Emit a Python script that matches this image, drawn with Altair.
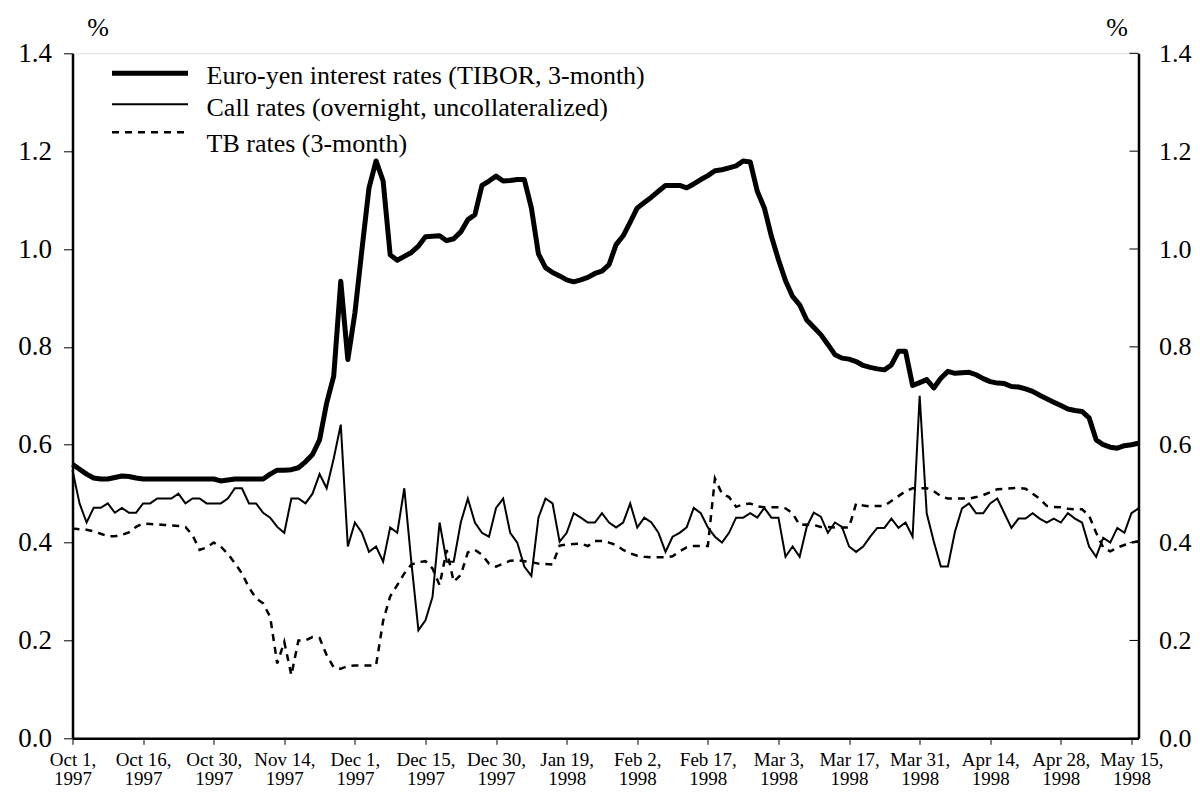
import altair as alt
import pandas as pd

# ---- data (trading-day index 0..151, Oct 1 1997 .. mid May 1998) ----
day_index = list(range(152))

euro_yen = [
    0.560, 0.550, 0.540, 0.532, 0.530, 0.530, 0.533, 0.536, 0.535, 0.532,
    0.530, 0.530, 0.530, 0.530, 0.530, 0.530, 0.530, 0.530, 0.530, 0.530,
    0.530, 0.526, 0.528, 0.530, 0.530, 0.530, 0.530, 0.530, 0.540, 0.548,
    0.548, 0.549, 0.553, 0.565, 0.580, 0.610, 0.685, 0.740, 0.934, 0.774,
    0.869, 0.999, 1.125, 1.180, 1.139, 0.988, 0.977, 0.985, 0.993, 1.006,
    1.025, 1.026, 1.027, 1.017, 1.021, 1.035, 1.060, 1.070, 1.130, 1.139,
    1.149, 1.139, 1.140, 1.142, 1.142, 1.084, 0.990, 0.962, 0.952, 0.945,
    0.937, 0.933, 0.937, 0.942, 0.950, 0.955, 0.968, 1.009, 1.027, 1.055,
    1.084, 1.095, 1.106, 1.118, 1.130, 1.130, 1.130, 1.125, 1.133, 1.142,
    1.150, 1.160, 1.162, 1.166, 1.170, 1.180, 1.178, 1.118, 1.084, 1.026,
    0.978, 0.935, 0.903, 0.886, 0.855, 0.840, 0.825, 0.805, 0.784, 0.777,
    0.775, 0.770, 0.762, 0.758, 0.755, 0.753, 0.763, 0.791, 0.791, 0.721,
    0.727, 0.733, 0.716, 0.736, 0.750, 0.746, 0.747, 0.748, 0.743, 0.735,
    0.729, 0.726, 0.725, 0.719, 0.718, 0.714, 0.709, 0.701, 0.694, 0.687,
    0.680, 0.673, 0.670, 0.668, 0.655, 0.610, 0.600, 0.595, 0.593, 0.598,
    0.600, 0.603,
]

call_rates = [
    0.548, 0.480, 0.441, 0.471, 0.471, 0.480, 0.461, 0.471, 0.461, 0.461,
    0.480, 0.480, 0.490, 0.490, 0.490, 0.500, 0.480, 0.490, 0.490, 0.480,
    0.480, 0.480, 0.490, 0.511, 0.511, 0.480, 0.480, 0.461, 0.451, 0.432,
    0.420, 0.490, 0.490, 0.480, 0.500, 0.540, 0.511, 0.572, 0.641, 0.392,
    0.441, 0.420, 0.381, 0.392, 0.361, 0.431, 0.420, 0.511, 0.360, 0.221,
    0.241, 0.289, 0.441, 0.361, 0.361, 0.441, 0.490, 0.441, 0.420, 0.412,
    0.471, 0.490, 0.420, 0.400, 0.351, 0.332, 0.451, 0.490, 0.480, 0.402,
    0.420, 0.460, 0.451, 0.441, 0.441, 0.460, 0.441, 0.431, 0.441, 0.480,
    0.431, 0.451, 0.441, 0.420, 0.381, 0.412, 0.420, 0.431, 0.471, 0.460,
    0.431, 0.412, 0.400, 0.420, 0.451, 0.451, 0.460, 0.451, 0.471, 0.451,
    0.451, 0.371, 0.392, 0.371, 0.432, 0.461, 0.453, 0.420, 0.441, 0.432,
    0.392, 0.381, 0.392, 0.412, 0.430, 0.430, 0.449, 0.430, 0.441, 0.412,
    0.700, 0.460, 0.402, 0.351, 0.351, 0.422, 0.470, 0.480, 0.460, 0.460,
    0.480, 0.490, 0.460, 0.430, 0.449, 0.449, 0.460, 0.449, 0.441, 0.449,
    0.441, 0.460, 0.449, 0.441, 0.392, 0.371, 0.410, 0.400, 0.430, 0.420,
    0.460, 0.470,
]

tb_rates = [
    0.429, 0.427, 0.426, 0.423, 0.418, 0.413, 0.413, 0.416, 0.421, 0.432,
    0.439, 0.438, 0.437, 0.436, 0.435, 0.434, 0.432, 0.415, 0.385, 0.390,
    0.400, 0.392, 0.377, 0.358, 0.337, 0.308, 0.286, 0.276, 0.248, 0.153,
    0.197, 0.129, 0.200, 0.200, 0.207, 0.205, 0.170, 0.145, 0.142, 0.148,
    0.149, 0.149, 0.149, 0.149, 0.240, 0.290, 0.313, 0.337, 0.355, 0.360,
    0.362, 0.347, 0.313, 0.385, 0.320, 0.334, 0.380, 0.385, 0.375, 0.357,
    0.351, 0.357, 0.363, 0.364, 0.362, 0.360, 0.357, 0.356, 0.355, 0.394,
    0.396, 0.397, 0.398, 0.393, 0.403, 0.403, 0.400, 0.395, 0.385, 0.378,
    0.373, 0.371, 0.370, 0.370, 0.370, 0.372, 0.382, 0.390, 0.393, 0.393,
    0.393, 0.531, 0.500, 0.493, 0.473, 0.478, 0.480, 0.474, 0.472, 0.472,
    0.472, 0.470, 0.460, 0.436, 0.437, 0.436, 0.432, 0.432, 0.431, 0.431,
    0.431, 0.480, 0.476, 0.474, 0.475, 0.475, 0.485, 0.495, 0.505, 0.511,
    0.511, 0.511, 0.505, 0.495, 0.490, 0.490, 0.490, 0.490, 0.493, 0.497,
    0.503, 0.509, 0.510, 0.511, 0.512, 0.510, 0.500, 0.490, 0.475, 0.473,
    0.472, 0.469, 0.468, 0.468, 0.455, 0.420, 0.390, 0.382, 0.390, 0.395,
    0.400, 0.403,
]

series_names = [
    "Euro-yen interest rates (TIBOR, 3-month)",
    "Call rates (overnight, uncollateralized)",
    "TB rates (3-month)",
]

tick_index = [0, 10, 20, 30, 40, 50, 60, 70, 80, 90, 100, 110, 120, 130, 140, 150]
tick_month_day = ["Oct 1,", "Oct 16,", "Oct 30,", "Nov 14,", "Dec 1,", "Dec 15,",
                  "Dec 30,", "Jan 19,", "Feb 2,", "Feb 17,", "Mar 3,", "Mar 17,",
                  "Mar 31,", "Apr 14,", "Apr 28,", "May 15,"]
tick_year = ["1997", "1997", "1997", "1997", "1997", "1997", "1997", "1998",
             "1998", "1998", "1998", "1998", "1998", "1998", "1998", "1998"]
y_ticks = [0.0, 0.2, 0.4, 0.6, 0.8, 1.0, 1.2, 1.4]
unit_label = "%"

# ---- build tables ----
rows = []
for name, vals in zip(series_names, [euro_yen, call_rates, tb_rates]):
    for i, v in zip(day_index, vals):
        rows.append({"idx": i, "value": v, "series": name})
df = pd.DataFrame(rows)
ticks_df = pd.DataFrame({"tick": y_ticks})

W, H = 1066, 685
FONT = "Liberation Serif"

label_expr = " : ".join(
    f"datum.value == {t} ? ['{md}', '{yr}']"
    for t, md, yr in zip(tick_index, tick_month_day, tick_year)
) + " : ''"

x_scale = alt.Scale(domain=[0, 151], nice=False, zero=False)
y_scale = alt.Scale(domain=[0, 1.4], nice=False)

x_axis = alt.Axis(values=tick_index, labelExpr=label_expr, title=None, grid=False,
                  tickSize=6, tickColor="black", tickWidth=1, labelPadding=6,
                  labelFontSize=19, labelLineHeight=19, labelColor="black",
                  labelFont=FONT, domainColor="black", domainWidth=2.5,
                  labelAlign="center", labelBaseline="top", labelFlush=False,
                  labelOverlap=False)
y_axis_left = alt.Axis(orient="left", values=y_ticks, format=".1f", title=None,
                       grid=False, tickSize=9, tickColor="black", tickWidth=1,
                       labelPadding=12, labelFontSize=27, labelColor="black",
                       labelFont=FONT, domainColor="black", domainWidth=2.5)
y_axis_right = alt.Axis(orient="right", values=y_ticks, format=".1f", title=None,
                        grid=False, ticks=False, tickSize=0, labelPadding=20,
                        labelFontSize=26, labelColor="black", labelFont=FONT,
                        domainColor="black", domainWidth=2.5)

styles = [
    {"strokeWidth": 5, "strokeJoin": "round"},
    {"strokeWidth": 2},
    {"strokeWidth": 2.5, "strokeDash": [7, 6]},
]

line_layers = []
for k, (name, st) in enumerate(zip(series_names, styles)):
    enc = {"x": alt.X("idx:Q", scale=x_scale, axis=x_axis),
           "y": alt.Y("value:Q", scale=y_scale, axis=y_axis_left if k == 0 else None)}
    layer = (alt.Chart(df).transform_filter(alt.datum.series == name)
             .mark_line(color="black", **st).encode(**enc))
    line_layers.append(layer)

# right axis with inward ticks
right_ticks = alt.Chart(ticks_df).mark_rule(color="black", strokeWidth=1).encode(
    y=alt.Y("tick:Q", scale=y_scale, axis=y_axis_right),
    x=alt.value(W - 9), x2=alt.value(W),
)

# legend (drawn inside the plot)
leg_line_y = [20, 51, 79]
leg_text_y = [31, 63, 99]
legend_layers = []
for name, st, ly, ty in zip(series_names, styles, leg_line_y, leg_text_y):
    src = pd.DataFrame({"t": [name]})
    legend_layers.append(
        alt.Chart(src).mark_rule(color="black", **st).encode(
            x=alt.value(39.5), x2=alt.value(115.5), y=alt.value(ly)))
    legend_layers.append(
        alt.Chart(src).mark_text(font=FONT, fontSize=26, align="left",
                                 baseline="alphabetic", color="black").encode(
            text="t:N", x=alt.value(134), y=alt.value(ty)))

pct_src = pd.DataFrame({"t": [unit_label]})
pct_left = alt.Chart(pct_src).mark_text(font=FONT, fontSize=26, align="center",
                                        baseline="middle", color="black").encode(
    text="t:N", x=alt.value(25.5), y=alt.value(-25))
pct_right = alt.Chart(pct_src).mark_text(font=FONT, fontSize=26, align="center",
                                         baseline="middle", color="black").encode(
    text="t:N", x=alt.value(W - 21.5), y=alt.value(-25))

chart = alt.layer(
    *line_layers, right_ticks, *legend_layers, pct_left, pct_right
).resolve_axis(y="independent").properties(
    width=W, height=H,
    autosize=alt.AutoSizeParams(type="none"),
    padding={"left": 64.5, "top": 45.3, "right": 53.5, "bottom": 49.7},
).configure_view(stroke="black", strokeWidth=2.5).configure(
    font=FONT, background="white"
)

chart.save("out.html", embed_options={"renderer": "svg", "actions": False})
